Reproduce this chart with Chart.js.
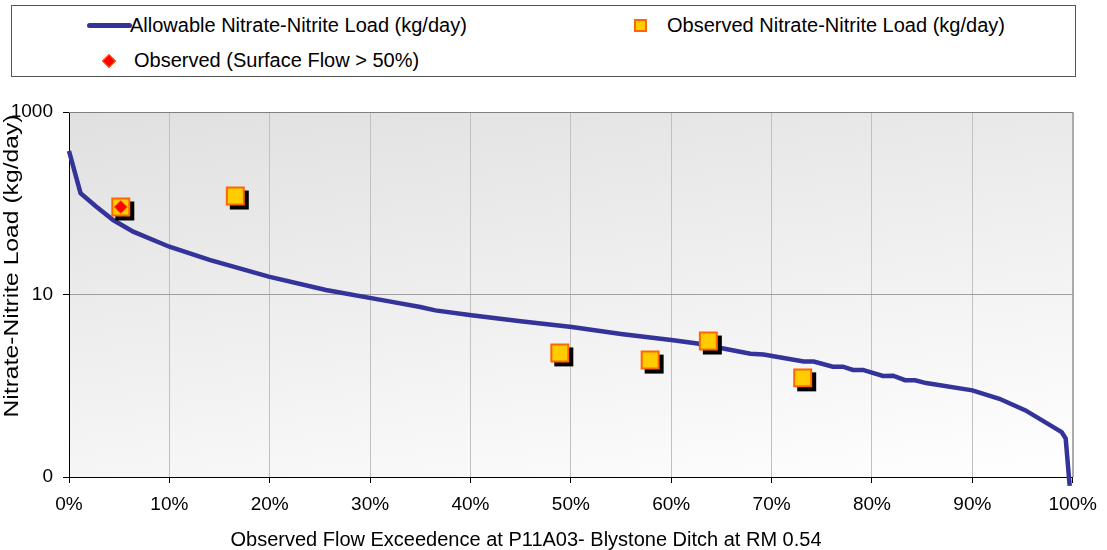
<!DOCTYPE html>
<html>
<head>
<meta charset="utf-8">
<script src="https://cdn.jsdelivr.net/npm/chart.js@4.4.1/dist/chart.umd.min.js"></script>
<style>
    html, body { margin: 0; padding: 0; background: #fff; }
    #wrap { position: relative; width: 1107px; height: 550px; font-family: "Liberation Sans", Arial, sans-serif; }
    #legend { position: absolute; left: 11px; top: 5px; width: 1063px; height: 70px; border: 1px solid #555; background: #fff; z-index: 2; }
    .lg-item { position: absolute; font-size: 20px; color: #000; line-height: 22px; white-space: nowrap; }
    .lg-sym { position: absolute; }
</style>
</head>
<body>
<div id="wrap">
    <div id="legend"></div>
    <canvas id="loadChart" width="1107" height="550"></canvas>
</div>
<script>
// Load duration curve - P11A03 Blystone Ditch
const flowPct = [0, 1.15, 2.7, 4.4, 6.4, 10, 14, 19.9, 25.6, 31.9, 35, 36.5, 40.1, 45, 50.1, 55, 60.2, 62.6,
    67.9, 69.2, 73.2, 74.2, 76.1, 77.1, 78.1, 79.1, 81.1, 82.1, 83.3, 84.3, 85.4, 90, 92.7, 95.3,
    98.9, 99.3, 99.7];
const allowableLoad = [374, 129, 92, 65.5, 48.8, 33.4, 23.9, 15.7, 11.2, 8.4, 7.3, 6.7, 5.92, 5.1, 4.41, 3.7, 3.15, 2.9,
    2.24, 2.2, 1.84, 1.84, 1.62, 1.62, 1.49, 1.49, 1.28, 1.29, 1.15, 1.15, 1.07, 0.89, 0.72, 0.537,
    0.31, 0.264, 0.08];

const obsPct = [5.16, 16.57, 48.9, 57.9, 63.7, 73.1];
const obsLoad = [91, 120, 2.29, 1.91, 3.09, 1.22];

const surfPct = [5.16];
const surfLoad = [91];

const yTickValues = [0.1, 10, 1000];
const xTitle = 'Observed Flow Exceedence at P11A03- Blystone Ditch at RM 0.54';
const yTitle = 'Nitrate-Nitrite Load (kg/day)';

const FONT = '"Liberation Sans", Arial, sans-serif';

const toXY = (xs, ys) => xs.map((x, i) => ({ x: x, y: ys[i] }));

// fondo degradado, bordes superior/derecho y títulos de ejes
const plotBg = {
    id: 'plotBg',
    beforeDraw(chart) {
        const { ctx, chartArea: a } = chart;
        const g = ctx.createLinearGradient(a.left, a.top, a.left + 79, a.top + 509);
        g.addColorStop(0, '#e0e0e0');
        g.addColorStop(1, '#ffffff');
        ctx.save();
        ctx.fillStyle = g;
        ctx.fillRect(a.left, a.top, a.right - a.left, a.bottom - a.top);
        ctx.restore();
    },
    beforeDatasetsDraw(chart) {
        const { ctx, chartArea: a } = chart;
        ctx.save();
        ctx.strokeStyle = '#808080';
        ctx.lineWidth = 1;
        ctx.beginPath();
        ctx.moveTo(a.left, a.top + 0.5);
        ctx.lineTo(a.right + 0.5, a.top + 0.5);
        ctx.lineTo(a.right + 0.5, a.bottom);
        ctx.stroke();
        ctx.restore();
    },
    afterDraw(chart) {
        const { ctx } = chart;
        ctx.save();
        ctx.fillStyle = '#000';
        ctx.textAlign = 'center';
        ctx.textBaseline = 'middle';
        ctx.font = '20px ' + FONT;
        ctx.fillText(xTitle, 526, 540);
        // el título vertical del original sale algo estirado
        ctx.translate(12, 266);
        ctx.rotate(-Math.PI / 2);
        ctx.font = '20px ' + FONT;
        const stretch = 303 / ctx.measureText(yTitle).width;
        ctx.scale(stretch, 1);
        ctx.fillText(yTitle, 0, 0);
        ctx.restore();
    }
};

// sombra negra detrás de los cuadros observados
const markerShadow = {
    id: 'markerShadow',
    beforeDatasetDraw(chart, args) {
        if (args.index !== 1) return;
        const ctx = chart.ctx;
        const r = chart.data.datasets[1].pointRadius * Math.SQRT1_2 + 1;
        ctx.save();
        ctx.fillStyle = '#000';
        args.meta.data.forEach(pt => {
            ctx.fillRect(pt.x - r + 4, pt.y - r + 4, 2 * r, 2 * r);
        });
        ctx.restore();
    }
};

const chart = new Chart(document.getElementById('loadChart'), {
    type: 'scatter',
    data: {
        datasets: [
            {
                label: 'Allowable Nitrate-Nitrite Load (kg/day)',
                data: toXY(flowPct, allowableLoad),
                showLine: true,
                borderColor: '#333399',
                borderWidth: 4.5,
                pointRadius: 0,
                tension: 0,
                clip: false,
                order: 3
            },
            {
                label: 'Observed Nitrate-Nitrite Load (kg/day)',
                data: toXY(obsPct, obsLoad),
                pointStyle: 'rect',
                pointRadius: 12,
                backgroundColor: '#FFCC00',
                borderColor: '#FF6600',
                borderWidth: 2,
                order: 2
            },
            {
                label: 'Observed (Surface Flow > 50%)',
                data: toXY(surfPct, surfLoad),
                pointStyle: 'rectRot',
                pointRadius: 6.5,
                backgroundColor: '#FF0000',
                borderColor: '#FF6600',
                borderWidth: 1,
                order: 1
            }
        ]
    },
    options: {
        responsive: false,
        animation: false,
        events: [],
        layout: { padding: { top: 112, right: 30, left: 0, bottom: 0 } },
        plugins: { legend: { display: false }, tooltip: { enabled: false } },
        scales: {
            x: {
                type: 'linear',
                min: 0,
                max: 100,
                afterFit: s => { s.height = 73; },
                ticks: {
                    stepSize: 10,
                    autoSkip: false,
                    maxRotation: 0,
                    padding: 10,
                    color: '#000',
                    font: { family: FONT, size: 19 },
                    callback: v => v + '%'
                },
                grid: { color: '#c0c0c0', tickColor: '#000', tickLength: 6 },
                border: { color: '#000', width: 1 }
            },
            y: {
                type: 'logarithmic',
                min: 0.1,
                max: 1000,
                afterFit: s => { s.width = 69; },
                afterBuildTicks: s => { s.ticks = yTickValues.map(v => ({ value: v })); },
                ticks: {
                    padding: 10,
                    color: '#000',
                    font: { family: FONT, size: 19 },
                    callback: v => (v < 1 ? '0' : String(v))
                },
                grid: { color: '#a0a0a0', tickColor: '#000', tickLength: 6 },
                border: { color: '#000', width: 1 }
            }
        }
    },
    plugins: [plotBg, markerShadow]
});

// leyenda HTML a partir de los datasets
const ds = chart.data.datasets;
const legendSlots = [
    { left: 118, top: 8 },
    { left: 655, top: 8 },
    { left: 122, top: 43 }
];
document.getElementById('legend').innerHTML = ds.map((d, i) => {
    const p = legendSlots[i];
    let sym;
    if (i === 0) {
        sym = `<div class="lg-sym" style="left:${p.left - 43}px;top:${p.top + 9}px;width:45px;height:5px;border-radius:3px;background:${d.borderColor}"></div>`;
    } else if (i === 1) {
        sym = `<div class="lg-sym" style="left:${p.left - 33}px;top:${p.top + 5}px;width:9px;height:9px;background:${d.backgroundColor};border:2px solid ${d.borderColor}"></div>`;
    } else {
        sym = `<div class="lg-sym" style="left:${p.left - 30}px;top:${p.top + 7}px;width:8px;height:8px;transform:rotate(45deg);background:${d.backgroundColor};border:1px solid ${d.borderColor}"></div>`;
    }
    return sym + `<div class="lg-item" style="left:${p.left}px;top:${p.top}px">${d.label.replace('>', '&gt;')}</div>`;
}).join('');
</script>
</body>
</html>
